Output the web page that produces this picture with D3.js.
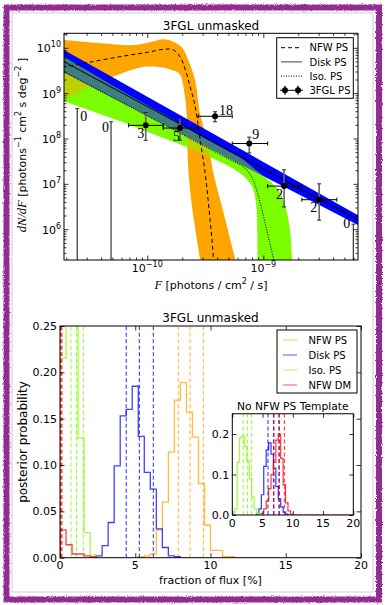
<!DOCTYPE html>
<html>
<head>
<meta charset="utf-8">
<script src="https://cdn.jsdelivr.net/npm/d3@7"></script>
<style>
  body { margin: 0; background: #fff; }
  svg text { font-family: 'DejaVu Sans', sans-serif; }
</style>
</head>
<body>
<script>
let width = 386, height = 605

// ---------- top panel: dN/dF ----------
let fluxLim = [1.914e-11, 6.55e-9]
let dndfLim = [2.09e5, 2.09e10]
let fluxTicks = [1e-10, 1e-9]
let dndfTicks = [1e6, 1e7, 1e8, 1e9, 1e10]

// NFW PS band (upper/right edge, lower/left edge) and median
let nfwUpper = [[1.85e-11, 1.49e10], [3.98e-11, 1.26e10], [7.59e-11, 1.15e10], [1.07e-10, 1.35e10],
  [1.38e-10, 1.55e10], [1.70e-10, 1.35e10], [2.0e-10, 1.0e10], [2.24e-10, 5.62e9], [2.51e-10, 2.51e9],
  [2.66e-10, 1.26e9], [2.82e-10, 3.98e8], [3.16e-10, 1.29e8], [3.39e-10, 6.31e7], [3.72e-10, 1.66e7],
  [4.41e-10, 3.09e6], [5.75e-10, 2.09e5], [6.17e-10, 1.0e5]]
let nfwLower = [[1.85e-11, 7.0e8], [9.33e-11, 3.80e9], [1.69e-10, 3.16e9], [1.92e-10, 2.51e9],
  [2.09e-10, 1.0e9], [2.19e-10, 3.16e8], [2.21e-10, 9.12e7], [2.27e-10, 1.66e7], [2.43e-10, 3.09e6],
  [2.86e-10, 2.09e5], [3.02e-10, 1.0e5]]
let nfwMedian = [[1.85e-11, 3.7e9], [3.16e-11, 4.79e9], [6.31e-11, 6.61e9], [1.0e-10, 7.94e9],
  [1.41e-10, 9.33e9], [1.66e-10, 9.12e9], [1.92e-10, 6.31e9], [2.13e-10, 3.24e9], [2.34e-10, 1.38e9],
  [2.51e-10, 7.08e8], [2.68e-10, 3.02e8], [2.86e-10, 9.12e7], [3.16e-10, 1.66e7], [3.39e-10, 3.09e6],
  [3.61e-10, 5.75e5], [3.73e-10, 2.09e5], [3.89e-10, 1.0e5]]

// Disk PS band
let diskUpper = [[1.78e-11, 9.98e9], [7.08e-9, 1.82e6]]
let diskLower = [[1.78e-11, 3.13e9], [7.08e-9, 1.11e6]]
let diskMedian = [[1.78e-11, 5.46e9], [7.08e-9, 1.45e6]]

// Iso. PS band
let isoUpper = [[1.78e-11, 7.08e9], [6.05e-11, 1.12e9], [1.58e-10, 2.82e8], [3.16e-10, 1.0e8],
  [5.01e-10, 5.25e7], [6.31e-10, 3.80e7], [7.94e-10, 2.40e7], [1.0e-9, 1.51e7], [1.23e-9, 9.55e6],
  [1.38e-9, 6.61e6], [1.50e-9, 4.17e6], [1.62e-9, 2.0e6], [1.71e-9, 8.13e5], [1.77e-9, 2.09e5], [1.80e-9, 1.0e5]]
let isoLower = [[1.78e-11, 7.08e8], [6.31e-11, 2.24e8], [1.0e-10, 1.41e8], [2.51e-10, 5.62e7],
  [3.98e-10, 3.31e7], [5.62e-10, 2.09e7], [7.08e-10, 1.32e7], [8.13e-10, 7.94e6], [8.71e-10, 3.16e6],
  [8.87e-10, 7.94e5], [8.91e-10, 2.09e5], [8.95e-10, 1.0e5]]
let isoMedian = [[1.78e-11, 3.31e9], [3.16e-10, 6.61e7], [5.01e-10, 3.55e7], [6.31e-10, 2.63e7],
  [7.24e-10, 2.0e7], [8.13e-10, 1.26e7], [8.91e-10, 6.31e6], [1.0e-9, 2.0e6], [1.10e-9, 7.08e5],
  [1.23e-9, 2.09e5], [1.29e-9, 1.0e5]]

// 3FGL sources
let fermiFlux = [9.69e-11, 1.91e-10, 3.84e-10, 7.57e-10, 1.51e-9, 3.03e-9]
let fermiFluxLo = [6.9e-11, 1.37e-10, 2.74e-10, 5.4e-10, 1.09e-9, 2.15e-9]
let fermiFluxHi = [1.37e-10, 2.74e-10, 5.4e-10, 1.09e-9, 2.15e-9, 4.3e-9]
let fermiDnDf = [1.95e8, 1.70e8, 3.09e8, 7.76e7, 8.91e6, 4.47e6]
let fermiErrHi = [3.72e8, 2.75e8, 3.89e8, 1.07e8, 2.04e7, 1.0e7]
let fermiErrLo = [9.12e7, 9.12e7, 2.34e8, 4.79e7, 3.09e6, 1.58e6]
let fermiCounts = [3, 5, 18, 9, 2, 2]
let emptyFlux = [2.49e-11, 4.87e-11, 5.97e-9]
let emptyLimit = [4.57e8, 2.34e8, 1.29e6]
let emptyCounts = [0, 0, 0]

// ---------- bottom panel: flux fractions ----------
let binWidth = 0.4
let seriesNames = ['NFW PS', 'Disk PS', 'Iso. PS', 'NFW DM']
let seriesColors = ['#ffa500', '#0000ff', '#7fff00', '#ff0000']
let fracTicks = [0, 5, 10, 15, 20]
let probTicks = [0, 0.05, 0.1, 0.15, 0.2, 0.25]
let insetProbTicks = [0, 0.1, 0.2]
let mainFirstBin = [5.2, 2.4, 0, 0]
let mainProb = [
  [0.001, 0.002, 0.004, 0.030, 0.060, 0.114, 0.170, 0.189, 0.157, 0.130, 0.080, 0.035, 0.008, 0.008, 0.001, 0.001],
  [0.002, 0.013, 0.038, 0.099, 0.153, 0.160, 0.185, 0.131, 0.092, 0.074, 0.031, 0.011, 0.002, 0.001],
  [0.215, 0.330, 0.290, 0.129, 0.027, 0.003],
  [0.030, 0.014, 0.004, 0.004, 0.002, 0.001]
]
let mainQuantiles = [[7.86, 8.64, 9.52], [4.4, 5.27, 6.2], [0.73, 1.1, 1.55], [0.02, 0.07, 0.13]]
let insetFirstBin = [null, 4.0, 0.4, 4.8]
let insetProb = [
  [],
  [0.003, 0.015, 0.05, 0.12, 0.16, 0.178, 0.15, 0.115, 0.07, 0.04, 0.02, 0.007, 0.002],
  [0.015, 0.13, 0.19, 0.195, 0.17, 0.135, 0.09, 0.045, 0.015, 0.004],
  [0.004, 0.015, 0.035, 0.065, 0.1, 0.13, 0.185, 0.2, 0.14, 0.075, 0.03, 0.01, 0.002]
]
let insetQuantiles = [[], [5.9, 6.8, 7.7], [1.8, 2.5, 3.2], [6.9, 7.8, 8.6]]

let svg = d3.select('body').append('svg').attr('width', width).attr('height', height)
let defs = svg.append('defs')

const isDecade = t => Math.abs(Math.log10(t) - Math.round(Math.log10(t))) < 1e-6

// inward ticks on all four sides + frame
function frameAxes(box, x, y, xv, yv, len) {
  let sides = [
    [d3.axisBottom(x), `translate(0,${box.bottom})`, xv],
    [d3.axisTop(x), `translate(0,${box.top})`, xv],
    [d3.axisLeft(y), `translate(${box.left},0)`, yv],
    [d3.axisRight(y), `translate(${box.right},0)`, yv]
  ]
  sides.forEach(([axis, tr, vals]) => {
    svg.append('g').attr('transform', tr)
      .call(axis.tickValues(vals).tickSize(-len).tickFormat(''))
      .call(g => g.select('.domain').remove())
      .call(g => g.selectAll('.tick line').attr('stroke-width', 0.8))
  })
}
function spine(box) {
  svg.append('rect')
    .attr('x', box.left).attr('y', box.top)
    .attr('width', box.right - box.left).attr('height', box.bottom - box.top)
    .attr('fill', 'none').attr('stroke', 'black').attr('stroke-width', 1)
}
function clipFor(id, box) {
  defs.append('clipPath').attr('id', id).append('rect')
    .attr('x', box.left).attr('y', box.top)
    .attr('width', box.right - box.left).attr('height', box.bottom - box.top)
}

// =============== TOP PANEL ===============
let boxTop = {left: 64, right: 358, top: 33.3, bottom: 260}
let x1 = d3.scaleLog().domain(fluxLim).range([boxTop.left, boxTop.right])
let y1 = d3.scaleLog().domain(dndfLim).range([boxTop.bottom, boxTop.top])
let smooth = d3.line().x(d => x1(d[0])).y(d => y1(d[1])).curve(d3.curveCatmullRom.alpha(0.5))
let band = (up, lo) => smooth(up) + smooth(lo.slice().reverse()).replace(/^M/, 'L') + 'Z'

clipFor('clipTop', boxTop)
let nfwPath = band(nfwUpper, nfwLower)
let diskPath = band(diskUpper, diskLower)
let isoPath = band(isoUpper, isoLower)
defs.append('clipPath').attr('id', 'clipIso').append('path').attr('d', isoPath)
defs.append('clipPath').attr('id', 'clipDisk').append('path').attr('d', diskPath)

let gTop = svg.append('g').attr('clip-path', 'url(#clipTop)')
gTop.append('path').attr('d', nfwPath).attr('fill', '#ffa500')
gTop.append('path').attr('d', isoPath).attr('fill', '#7cfc00')
gTop.append('g').attr('clip-path', 'url(#clipIso)')
  .append('path').attr('d', nfwPath).attr('fill', '#ffa500').attr('opacity', 0.5)
gTop.append('path').attr('d', diskPath).attr('fill', '#0000ff')
gTop.append('g').attr('clip-path', 'url(#clipDisk)')
  .append('path').attr('d', isoPath).attr('fill', '#7cfc00').attr('opacity', 0.5)

gTop.append('path').attr('d', smooth(nfwMedian)).attr('fill', 'none')
  .attr('stroke', 'black').attr('stroke-width', 1).attr('stroke-dasharray', '4,3')
gTop.append('path').attr('d', smooth(diskMedian)).attr('fill', 'none')
  .attr('stroke', 'black').attr('stroke-width', 1)
gTop.append('path').attr('d', smooth(isoMedian)).attr('fill', 'none')
  .attr('stroke', 'black').attr('stroke-width', 1).attr('stroke-dasharray', '1,1.5')

// empty bins: upper limits down to the axis
emptyFlux.forEach((f, i) => {
  let xx = x1(f), yy = y1(emptyLimit[i])
  gTop.append('line').attr('x1', xx).attr('x2', xx).attr('y1', yy).attr('y2', boxTop.bottom + 2)
    .attr('stroke', '#333').attr('stroke-width', 1.2)
  gTop.append('line').attr('x1', xx - 2).attr('x2', xx + 2).attr('y1', yy).attr('y2', yy)
    .attr('stroke', '#333').attr('stroke-width', 1)
})

// 3FGL points with error bars
fermiFlux.forEach((f, i) => {
  let xx = x1(f), yy = y1(fermiDnDf[i])
  let xa = x1(fermiFluxLo[i]), xb = x1(fermiFluxHi[i])
  let ya = y1(fermiErrHi[i]), yb = y1(fermiErrLo[i])
  gTop.append('line').attr('x1', xa).attr('x2', xb).attr('y1', yy).attr('y2', yy)
    .attr('stroke', 'black').attr('stroke-width', 1)
  ;[xa, xb].forEach(c => gTop.append('line').attr('x1', c).attr('x2', c)
    .attr('y1', yy - 2).attr('y2', yy + 2).attr('stroke', 'black').attr('stroke-width', 1))
  gTop.append('line').attr('x1', xx).attr('x2', xx).attr('y1', ya).attr('y2', yb)
    .attr('stroke', '#666').attr('stroke-width', 1.6)
  ;[ya, yb].forEach(c => gTop.append('line').attr('x1', xx - 2).attr('x2', xx + 2)
    .attr('y1', c).attr('y2', c).attr('stroke', '#222').attr('stroke-width', 1))
  gTop.append('circle').attr('cx', xx).attr('cy', yy).attr('r', 3).attr('fill', 'black')
})

// count labels
let countPlace = [[-1.5, 12.5, 'end'], [0, 12.5, 'end'], [4, -1.5, 'start'], [3, -4.5, 'start'],
  [-1, 12.5, 'end'], [-2, 12.5, 'end']]
fermiCounts.forEach((c, i) => {
  svg.append('text').attr('x', x1(fermiFlux[i]) + countPlace[i][0])
    .attr('y', y1(fermiDnDf[i]) + countPlace[i][1]).attr('text-anchor', countPlace[i][2])
    .style('font-family', "'Liberation Serif', serif").attr('font-size', 14).text(c)
})
let emptyPlace = [[3, 12, 'start'], [-2, 10, 'end'], [-3, 4, 'end']]
emptyCounts.forEach((c, i) => {
  svg.append('text').attr('x', x1(emptyFlux[i]) + emptyPlace[i][0])
    .attr('y', y1(emptyLimit[i]) + emptyPlace[i][1]).attr('text-anchor', emptyPlace[i][2])
    .style('font-family', "'Liberation Serif', serif").attr('font-size', 14).text(c)
})

// ticks
let minorFlux = x1.ticks().filter(t => !isDecade(t))
let minorDndf = y1.ticks().filter(t => !isDecade(t))
frameAxes(boxTop, x1, y1, minorFlux, minorDndf, 2.5)
frameAxes(boxTop, x1, y1, fluxTicks, dndfTicks, 4.5)
spine(boxTop)

let sup = (sel, base, exp) => {
  sel.append('tspan').text(base)
  sel.append('tspan').attr('dy', -5).attr('font-size', 8).text(exp)
}
dndfTicks.forEach(v => {
  svg.append('text').attr('x', boxTop.left - 3).attr('y', y1(v) + 4.5)
    .attr('text-anchor', 'end').attr('font-size', 11)
    .call(t => sup(t, '10', String(Math.round(Math.log10(v))).replace('-', '\u2212')))
})
fluxTicks.forEach(v => {
  svg.append('text').attr('x', x1(v)).attr('y', 272)
    .attr('text-anchor', 'middle').attr('font-size', 11)
    .call(t => sup(t, '10', String(Math.round(Math.log10(v))).replace('-', '\u2212')))
})

svg.append('text').attr('x', (boxTop.left + boxTop.right) / 2).attr('y', 29.5)
  .attr('text-anchor', 'middle').attr('font-size', 12).text('3FGL unmasked')

// x label
let xl = svg.append('text').attr('x', 211).attr('y', 289).attr('text-anchor', 'middle').attr('font-size', 11)
xl.append('tspan').style('font-family', "'Liberation Serif', serif").attr('font-style', 'italic').attr('font-size', 12.5).text('F')
xl.append('tspan').text('  [photons / cm')
xl.append('tspan').attr('dy', -5).attr('font-size', 8).text('2')
xl.append('tspan').attr('dy', 5).text('  / s]')

// y label
let yl = svg.append('text').attr('transform', 'translate(26,145) rotate(-90)')
  .attr('text-anchor', 'middle').attr('font-size', 11)
yl.append('tspan').style('font-family', "'Liberation Serif', serif").attr('font-style', 'italic').attr('font-size', 12.5).text('dN/dF')
yl.append('tspan').text(' [photons')
yl.append('tspan').attr('dy', -5).attr('font-size', 8).text('\u22121')
yl.append('tspan').attr('dy', 5).text(' cm')
yl.append('tspan').attr('dy', -5).attr('font-size', 8).text('2')
yl.append('tspan').attr('dy', 5).text(' s deg')
yl.append('tspan').attr('dy', -5).attr('font-size', 8).text('\u22122')
yl.append('tspan').attr('dy', 5).text(' ]')

// legend (top)
let legTop = svg.append('g')
legTop.append('rect').attr('x', 276.7).attr('y', 37.7).attr('width', 76.6).attr('height', 60.6)
  .attr('fill', 'white').attr('stroke', 'black').attr('stroke-width', 1)
let legTopNames = ['NFW PS', 'Disk PS', 'Iso. PS', '3FGL PS']
let legTopDash = ['4,3', null, '1,1.5', null]
legTopNames.forEach((n, i) => {
  let yy = 47.7 + i * 14.2
  if (i < 3) {
    legTop.append('line').attr('x1', 281).attr('x2', 302).attr('y1', yy).attr('y2', yy)
      .attr('stroke', i == 1 ? '#444' : 'black').attr('stroke-width', 1)
      .attr('stroke-dasharray', legTopDash[i])
  } else {
    legTop.append('line').attr('x1', 280).attr('x2', 303).attr('y1', yy).attr('y2', yy)
      .attr('stroke', 'black').attr('stroke-width', 1)
    ;[285, 298].forEach(cx => {
      legTop.append('line').attr('x1', cx).attr('x2', cx).attr('y1', yy - 4.5).attr('y2', yy + 4.5)
        .attr('stroke', '#333').attr('stroke-width', 1.5)
      legTop.append('circle').attr('cx', cx).attr('cy', yy).attr('r', 3).attr('fill', 'black')
    })
  }
  legTop.append('text').attr('x', 309.5).attr('y', yy + 3.6).attr('font-size', 10).text(n)
})

// =============== BOTTOM PANEL ===============
let boxMain = {left: 60, right: 361, top: 326, bottom: 557.7}
let x2 = d3.scaleLinear().domain([0, 20]).range([boxMain.left, boxMain.right])
let y2 = d3.scaleLinear().domain([0, 0.25]).range([boxMain.bottom, boxMain.top])

function stepPts(start, probs) {
  let pts = [[start, 0]]
  probs.forEach((p, i) => { pts.push([start + i * binWidth, p]); pts.push([start + (i + 1) * binWidth, p]) })
  pts.push([start + probs.length * binWidth, 0])
  return pts
}

clipFor('clipMain', boxMain)
let gMain = svg.append('g').attr('clip-path', 'url(#clipMain)')
let stepMain = d3.line().x(d => x2(d[0])).y(d => y2(d[1]))
seriesNames.forEach((n, i) => {
  gMain.append('path').attr('d', stepMain(stepPts(mainFirstBin[i], mainProb[i])))
    .attr('fill', 'none').attr('stroke', seriesColors[i]).attr('stroke-opacity', 0.75).attr('stroke-width', 1.3)
  mainQuantiles[i].forEach(q => {
    gMain.append('line').attr('x1', x2(q)).attr('x2', x2(q)).attr('y1', y2(0)).attr('y2', y2(0.25))
      .attr('stroke', seriesColors[i]).attr('stroke-opacity', 0.85).attr('stroke-width', 1)
      .attr('stroke-dasharray', '4,2.5')
  })
})
frameAxes(boxMain, x2, y2, fracTicks, probTicks, 4.5)
spine(boxMain)
probTicks.forEach(v => {
  svg.append('text').attr('x', boxMain.left - 3).attr('y', y2(v) + 4).attr('text-anchor', 'end')
    .attr('font-size', 11).text(d3.format('.2f')(v))
})
fracTicks.forEach(v => {
  svg.append('text').attr('x', x2(v)).attr('y', 569).attr('text-anchor', 'middle')
    .attr('font-size', 11).text(v)
})
svg.append('text').attr('x', (boxMain.left + boxMain.right) / 2).attr('y', 322)
  .attr('text-anchor', 'middle').attr('font-size', 12).text('3FGL unmasked')
svg.append('text').attr('x', 210.5).attr('y', 584).attr('text-anchor', 'middle')
  .attr('font-size', 11).text('fraction of flux [%]')
svg.append('text').attr('transform', 'translate(27,442) rotate(-90)').attr('text-anchor', 'middle')
  .attr('font-size', 12).text('posterior probability')

// legend (bottom)
let legMain = svg.append('g')
legMain.append('rect').attr('x', 277).attr('y', 330).attr('width', 80).attr('height', 63)
  .attr('fill', 'white').attr('stroke', 'black').attr('stroke-width', 1)
seriesNames.forEach((n, i) => {
  let yy = 340 + i * 15
  legMain.append('line').attr('x1', 283).attr('x2', 297).attr('y1', yy).attr('y2', yy)
    .attr('stroke', seriesColors[i]).attr('stroke-opacity', 0.5).attr('stroke-width', 1.3)
  legMain.append('text').attr('x', 308.5).attr('y', yy + 3.6).attr('font-size', 10).text(n)
})

// inset
let boxIn = {left: 232.3, right: 353.3, top: 413.75, bottom: 515}
let xi = d3.scaleLinear().domain([0, 20]).range([boxIn.left, boxIn.right])
let yi = d3.scaleLinear().domain([0, 0.25]).range([boxIn.bottom, boxIn.top])
svg.append('rect').attr('x', boxIn.left).attr('y', boxIn.top)
  .attr('width', boxIn.right - boxIn.left).attr('height', boxIn.bottom - boxIn.top).attr('fill', 'white')
clipFor('clipIn', boxIn)
let gIn = svg.append('g').attr('clip-path', 'url(#clipIn)')
let stepIn = d3.line().x(d => xi(d[0])).y(d => yi(d[1]))
seriesNames.forEach((n, i) => {
  if (!insetProb[i].length) return
  let pts = stepPts(insetFirstBin[i], insetProb[i])
  if (i == 3) pts.push([20, 0])
  gIn.append('path').attr('d', stepIn(pts))
    .attr('fill', 'none').attr('stroke', seriesColors[i]).attr('stroke-opacity', 0.8).attr('stroke-width', 1.2)
  insetQuantiles[i].forEach(q => {
    gIn.append('line').attr('x1', xi(q)).attr('x2', xi(q)).attr('y1', yi(0)).attr('y2', yi(0.25))
      .attr('stroke', seriesColors[i]).attr('stroke-opacity', 0.85).attr('stroke-width', 1)
      .attr('stroke-dasharray', '4,2.5')
  })
})
frameAxes(boxIn, xi, yi, fracTicks, insetProbTicks, 4)
spine(boxIn)
insetProbTicks.forEach(v => {
  svg.append('text').attr('x', boxIn.left - 3).attr('y', yi(v) + 4).attr('text-anchor', 'end')
    .attr('font-size', 11).text(d3.format('.1f')(v))
})
fracTicks.forEach(v => {
  svg.append('text').attr('x', xi(v)).attr('y', 527).attr('text-anchor', 'middle')
    .attr('font-size', 11).text(v)
})
svg.append('text').attr('x', (boxIn.left + boxIn.right) / 2).attr('y', 410)
  .attr('text-anchor', 'middle').attr('font-size', 10.7).text('No NFW PS Template')

// ---------- purple frame ----------
let rough = defs.append('filter').attr('id', 'rough')
  .attr('x', '-5%').attr('y', '-5%').attr('width', '110%').attr('height', '110%')
rough.append('feTurbulence').attr('type', 'fractalNoise').attr('baseFrequency', 0.9)
  .attr('numOctaves', 2).attr('result', 'noise')
rough.append('feDisplacementMap').attr('in', 'SourceGraphic').attr('in2', 'noise').attr('scale', 3)
svg.append('rect').attr('x', 12).attr('y', 13).attr('width', 361).attr('height', 579)
  .attr('fill', 'none').attr('stroke', '#d8c8d8').attr('stroke-width', 1)
svg.append('rect').attr('x', 6.5).attr('y', 7.5).attr('width', 372.5).attr('height', 592)
  .attr('fill', 'none').attr('stroke', '#952b95').attr('stroke-width', 6)
  .attr('filter', 'url(#rough)')
</script>
</body>
</html>
